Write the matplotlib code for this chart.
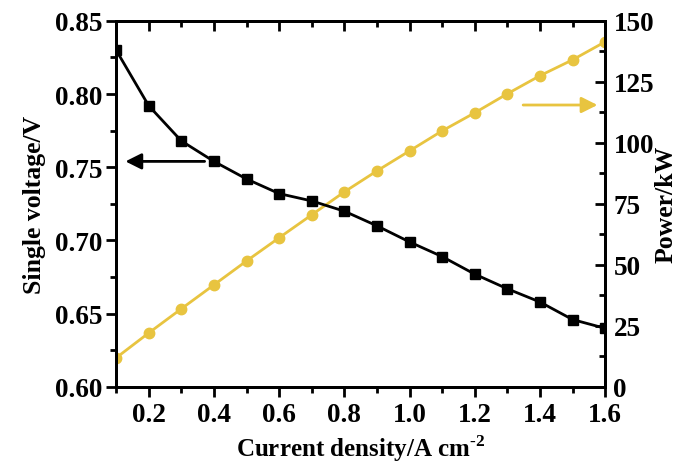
import numpy as np
import matplotlib.pyplot as plt
from matplotlib.ticker import MultipleLocator

plt.rcParams['font.family'] = ['Liberation Serif', 'DejaVu Serif']
plt.rcParams['font.weight'] = 'bold'
plt.rcParams['mathtext.fontset'] = 'custom'
plt.rcParams['mathtext.rm'] = 'Liberation Serif:bold'
plt.rcParams['mathtext.bf'] = 'Liberation Serif:bold'

current = [0.1, 0.2, 0.3, 0.4, 0.5, 0.6, 0.7, 0.8, 0.9, 1.0, 1.1, 1.2, 1.3, 1.4, 1.5, 1.6]
voltage = [0.830, 0.792, 0.768, 0.754, 0.742, 0.732, 0.727, 0.720, 0.710, 0.699,
           0.689, 0.677, 0.667, 0.658, 0.646, 0.640]
power = [11.9, 22.1, 32.0, 41.8, 51.6, 61.1, 70.5, 79.9, 88.5, 96.7,
         104.9, 112.3, 120.1, 127.5, 134.0, 141.4]

yellow = '#E8C440'

fig = plt.figure(figsize=(6.83, 4.64), dpi=100)
ax = fig.add_axes([0.170, 0.164, 0.716, 0.789])
ax2 = ax.twinx()
ax3 = ax.twiny()

ax.plot(current, voltage, color='black', marker='s', markersize=7.5, linewidth=2, zorder=3)
ax2.plot(current, power, color=yellow, marker='o', markersize=7.5, linewidth=2)
ax.set_zorder(ax2.get_zorder() + 1)
ax.patch.set_visible(False)

ax.set_xlim(0.1, 1.6)
ax3.set_xlim(0.1, 1.6)
ax.set_ylim(0.60, 0.85)
ax2.set_ylim(0, 150)

for a in (ax, ax3):
    a.xaxis.set_major_locator(MultipleLocator(0.2))
    a.xaxis.set_minor_locator(MultipleLocator(0.1))
ax.yaxis.set_major_locator(MultipleLocator(0.05))
ax.yaxis.set_minor_locator(MultipleLocator(0.025))
ax2.yaxis.set_major_locator(MultipleLocator(25))
ax2.yaxis.set_minor_locator(MultipleLocator(12.5))
ax.xaxis.set_major_formatter(plt.FormatStrFormatter('%.1f'))
ax.yaxis.set_major_formatter(plt.FormatStrFormatter('%.2f'))

for a in (ax, ax2, ax3):
    for s in a.spines.values():
        s.set_linewidth(2)

ax.tick_params(axis='x', which='both', direction='out', labelsize=19.5, width=2, pad=4)
ax.tick_params(axis='y', which='both', direction='out', labelsize=19.5, width=2, pad=3)
ax3.tick_params(axis='x', which='both', direction='in', labeltop=False, width=2)
ax2.tick_params(axis='y', which='both', direction='in', labelsize=19.5, width=2, pad=6)
for a in (ax, ax2, ax3):
    a.tick_params(which='major', length=7)
    a.tick_params(which='minor', length=4.5)

ax.set_xlabel('Current density/A cm$^{\\text{-2}}$', fontsize=18, fontweight='bold', labelpad=4)
ax.set_ylabel('Single voltage/V', fontsize=18.5, fontweight='bold', labelpad=6)
ax2.set_ylabel('Power/kW', fontsize=18.5, fontweight='bold', labelpad=0)

ax.annotate('', xy=(0.12, 0.754), xytext=(0.38, 0.754),
            arrowprops=dict(arrowstyle='-|>', color='black', lw=2, mutation_scale=24))
ax2.annotate('', xy=(1.585, 115.5), xytext=(1.34, 115.5),
             arrowprops=dict(arrowstyle='-|>', color=yellow, lw=2, mutation_scale=24))

fig.savefig('out.png', dpi=100)
